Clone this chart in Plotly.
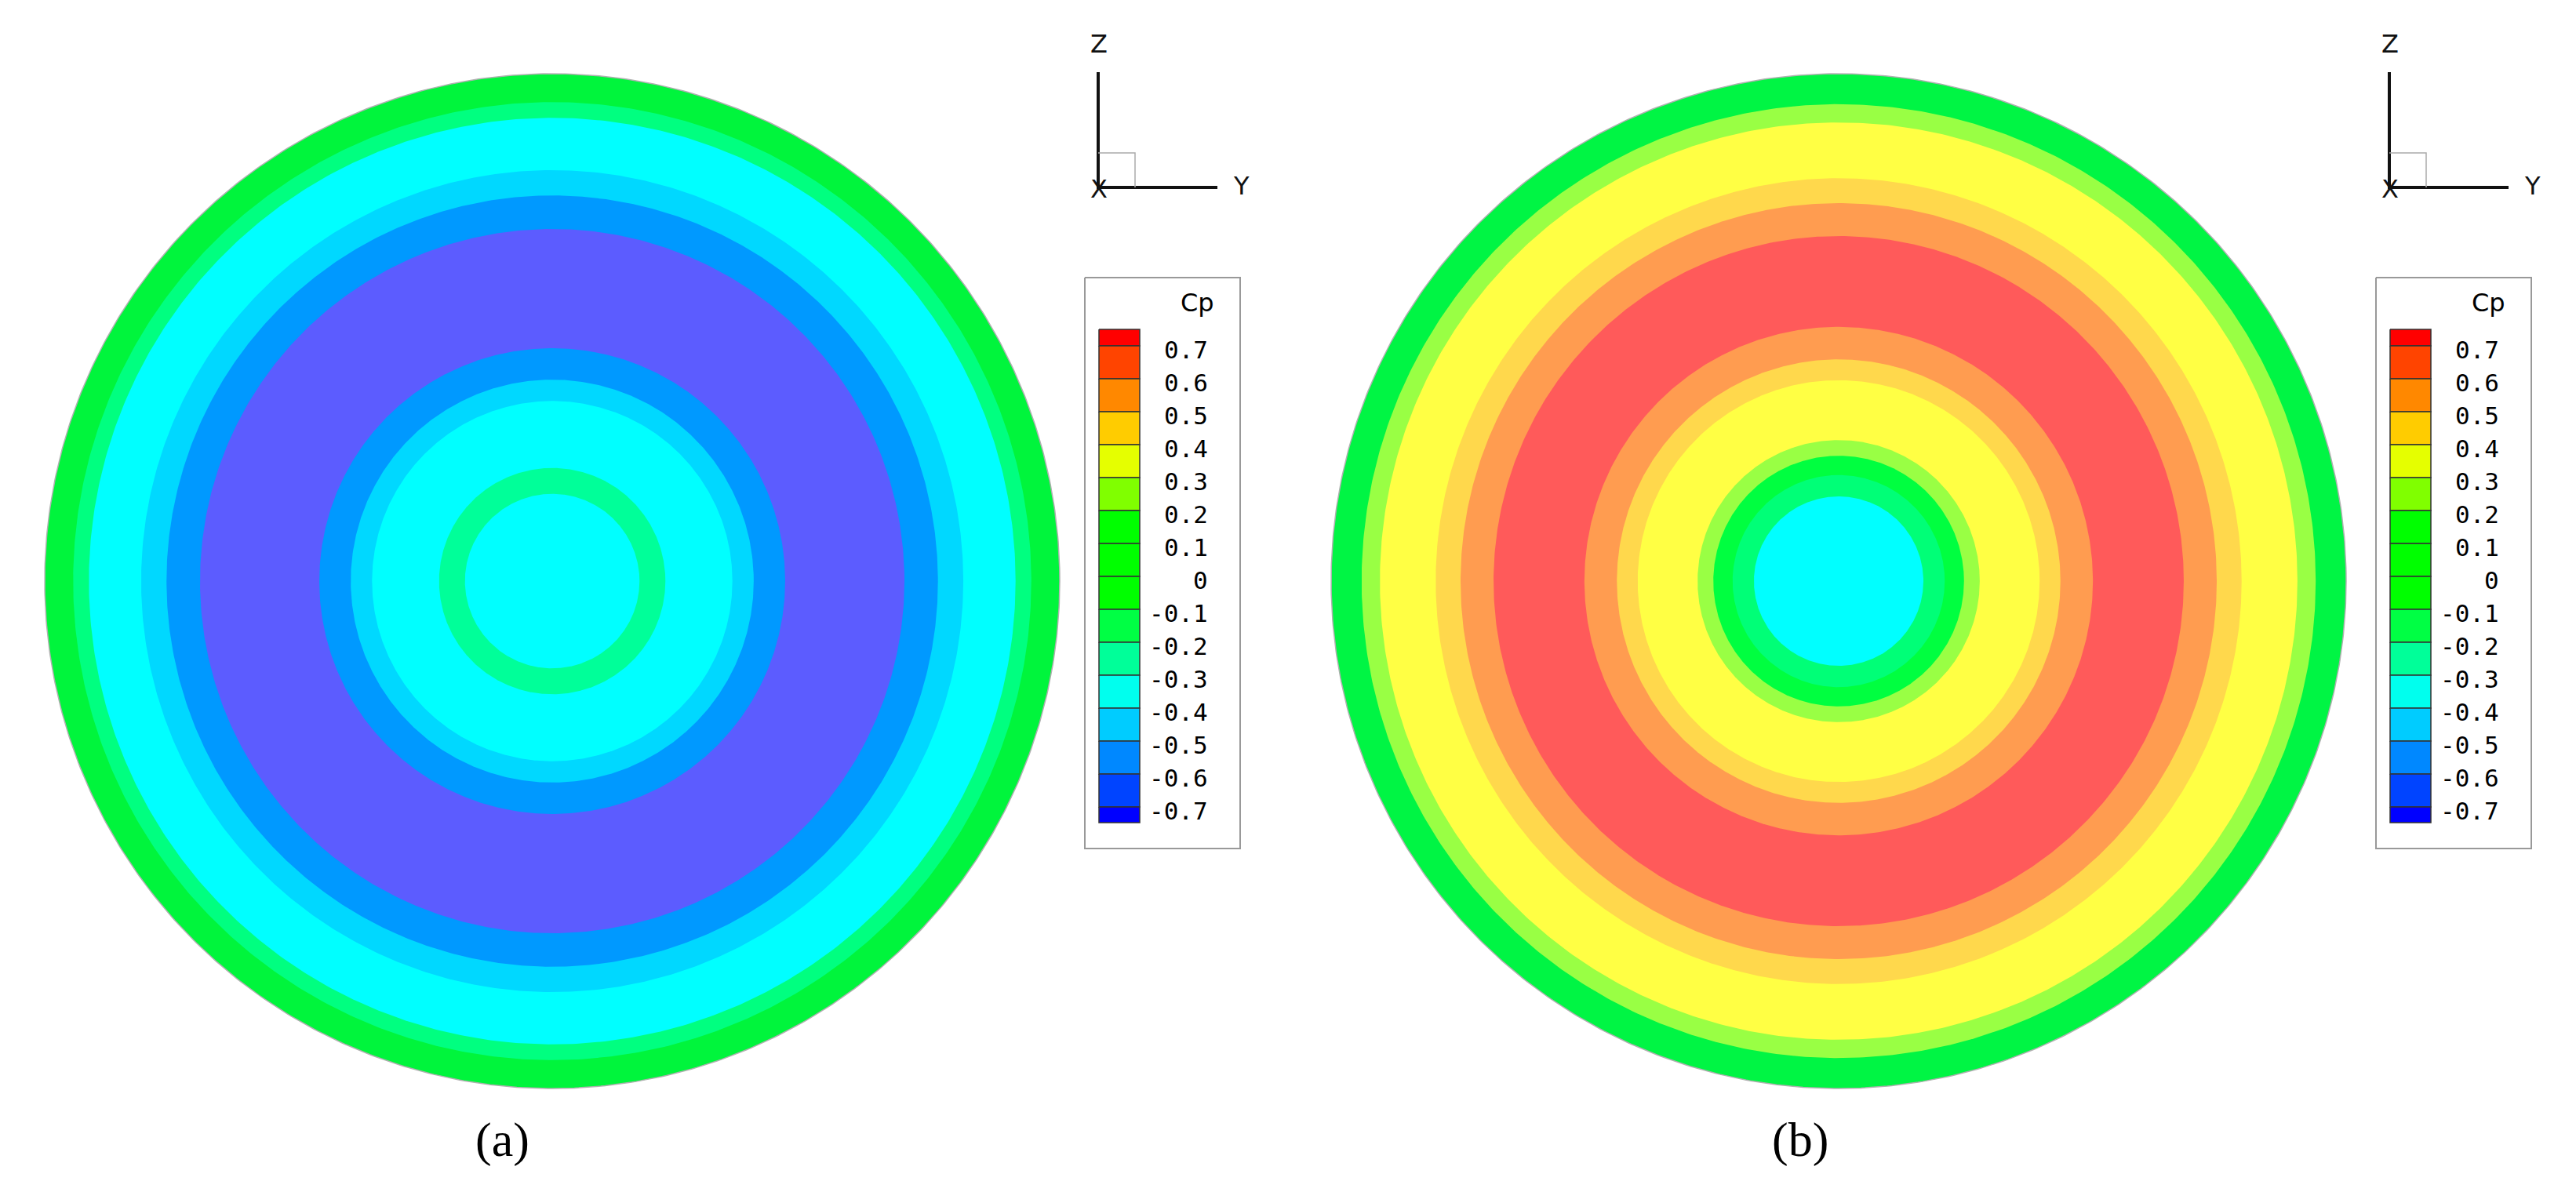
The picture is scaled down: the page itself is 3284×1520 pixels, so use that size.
import numpy as np
import plotly.graph_objects as go

# ---- data ----
ring_frac_a = [1.0, 0.944, 0.913, 0.810, 0.760, 0.694, 0.459, 0.397, 0.355, 0.223, 0.172]
ring_col_a = ["#00f53c", "#00ff80", "#00ffff", "#00d8ff", "#0099ff", "#5c5cff",
              "#0099ff", "#00d8ff", "#00ffff", "#00ff99", "#00ffff"]
ring_frac_b = [1.0, 0.940, 0.904, 0.794, 0.745, 0.680, 0.501, 0.437, 0.396, 0.278, 0.247, 0.209, 0.167]
ring_col_b = ["#00f544", "#99ff44", "#ffff44", "#ffd84c", "#ff9c50", "#ff5a5a", "#ff9c50",
              "#ffd84c", "#ffff44", "#99ff44", "#00ff40", "#00ff77", "#00ffff"]
cp_labels = ["0.7", "0.6", "0.5", "0.4", "0.3", "0.2", "0.1", "0", "-0.1", "-0.2",
             "-0.3", "-0.4", "-0.5", "-0.6", "-0.7"]
cp_colors = ["#ff0000", "#ff4400", "#ff8800", "#ffcc00", "#e5ff00", "#80ff00", "#00ff00",
             "#00ff00", "#00ff00", "#00ff44", "#00ff99", "#00ffee", "#00ccff", "#0088ff",
             "#0044ff", "#0000ff"]
panel_labels = ["(a)", "(b)"]

W, H = 3284, 1520
fig = go.Figure()
th = np.linspace(0, 2 * np.pi, 721)
R = 647
panels = [(696, 733, ring_frac_a, ring_col_a), (2336, 733, ring_frac_b, ring_col_b)]
for cx, cy, fr, cols in panels:
    for i, (f, c) in enumerate(zip(fr, cols)):
        r = f * R
        fig.add_trace(go.Scatter(x=cx + r * np.cos(th), y=cy + r * np.sin(th), mode="lines",
                                 fill="toself", fillcolor=c,
                                 line=dict(color="#b0b0b0" if i == 0 else c, width=1.5 if i == 0 else 0),
                                 hoverinfo="skip", showlegend=False))

ann = []
for k, off in enumerate([0, 1646]):
    # triad
    x0, y0 = 1392 + off, 231
    fig.add_trace(go.Scatter(x=[x0, x0, x0 + 152], y=[84, y0, y0], mode="lines",
                             line=dict(color="#111111", width=4), showlegend=False, hoverinfo="skip"))
    fig.add_trace(go.Scatter(x=[x0, x0 + 47, x0 + 47], y=[187, 187, y0], mode="lines",
                             line=dict(color="#aaaaaa", width=1.5), showlegend=False, hoverinfo="skip"))
    for t, tx, ty in [("Z", x0 + 1, 48), ("Y", x0 + 182, 229), ("X", x0 + 1, 233)]:
        ann.append(dict(x=tx, y=ty, text=t, showarrow=False,
                        font=dict(family="DejaVu Sans", size=32, color="#111111")))
    # legend box
    bx0, bx1, by0, by1 = 1375 + off, 1573 + off, 346, 1074
    fig.add_trace(go.Scatter(x=[bx0, bx1, bx1, bx0, bx0], y=[by0, by0, by1, by1, by0], mode="lines",
                             line=dict(color="#999999", width=2), showlegend=False, hoverinfo="skip"))
    ann.append(dict(x=1518 + off, y=378, text="Cp", showarrow=False,
                    font=dict(family="DejaVu Sans", size=32, color="black")))
    # color bands
    top, first, step = 412, 433, 42
    n = len(cp_colors)
    for i, c in enumerate(cp_colors):
        ya = top if i == 0 else first + step * (i - 1)
        yb = first if i == 0 else min(first + step * i, 1041)
        fig.add_trace(go.Scatter(x=[1393 + off, 1445 + off, 1445 + off, 1393 + off, 1393 + off],
                                 y=[ya, ya, yb, yb, ya],
                                 mode="lines", fill="toself", fillcolor=c, line=dict(color="#333333", width=1.5),
                                 showlegend=False, hoverinfo="skip"))
    for i, lab in enumerate(cp_labels):
        ann.append(dict(x=1534 + off, y=first + step * i + 5, text=lab, xanchor="right", showarrow=False,
                        font=dict(family="DejaVu Sans Mono", size=31, color="black")))
    ann.append(dict(x=[632, 2287][k], y=1445, text=panel_labels[k], showarrow=False,
                    font=dict(family="Liberation Serif", size=62, color="black")))

fig.update_layout(width=W, height=H, margin=dict(l=0, r=0, t=0, b=0), plot_bgcolor="white",
                  paper_bgcolor="white", annotations=ann,
                  xaxis=dict(range=[0, W], visible=False),
                  yaxis=dict(range=[H, 0], visible=False))
fig.write_html("out.html")
